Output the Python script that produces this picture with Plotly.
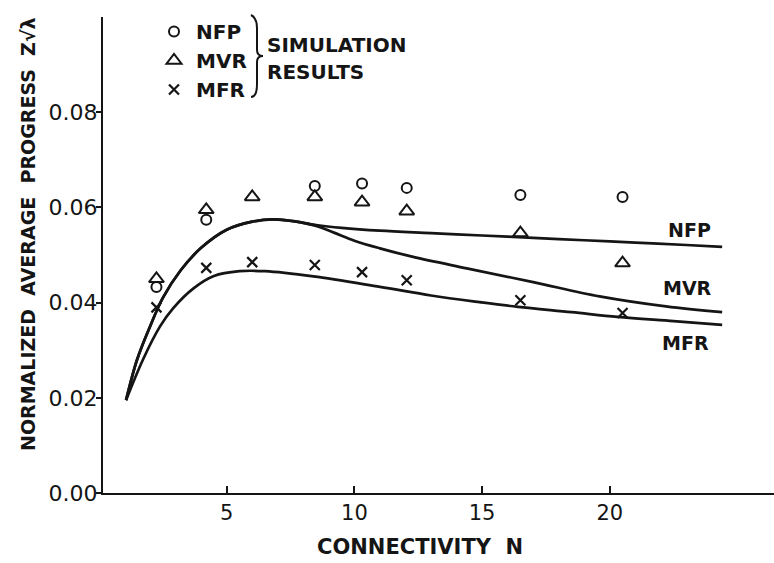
import plotly.graph_objects as go

# Simulation results (markers)
sim_n = [2.25, 4.2, 6.0, 8.45, 10.3, 12.05, 16.5, 20.5]
sim_nfp = [0.0433, 0.0574, None, 0.0645, 0.0650, 0.0641, 0.0626, 0.0622]
sim_mvr = [0.0450, 0.0595, 0.0622, 0.0622, 0.0611, 0.0592, 0.0546, 0.0483]
sim_mfr = [0.0390, 0.0473, 0.0485, 0.0479, 0.0464, 0.0447, 0.0405, 0.0378]

# Analytical curves
nfp_n = [1.06, 1.49, 2.0, 2.5, 3.2, 4.0, 5.0, 6.0, 6.8, 7.6, 8.5, 9.5,
         11.0, 13.0, 15.0, 17.0, 19.0, 21.0, 23.0, 24.4]
nfp_y = [0.0195, 0.0280, 0.0350, 0.0410, 0.0468, 0.0515, 0.0553, 0.0570,
         0.0575, 0.0571, 0.0563, 0.0557, 0.0551, 0.0546, 0.0541, 0.0536,
         0.0531, 0.0526, 0.0521, 0.0517]

mvr_n = [1.06, 1.49, 2.0, 2.5, 3.2, 4.0, 5.0, 6.0, 6.8, 7.6, 8.5, 9.2,
         10.0, 11.0, 12.3, 14.4, 17.0, 19.6, 22.2, 24.4]
mvr_y = [0.0195, 0.0280, 0.0350, 0.0410, 0.0468, 0.0515, 0.0553, 0.0570,
         0.0575, 0.0571, 0.0561, 0.0547, 0.0530, 0.0514, 0.0496, 0.0472,
         0.0443, 0.0413, 0.0392, 0.0380]

mfr_n = [1.06, 1.72, 2.39, 2.9, 3.7, 4.5, 5.5, 6.5, 8.4, 11.0, 13.0, 14.9,
         16.4, 18.5, 20.3, 22.5, 24.4]
mfr_y = [0.0195, 0.0280, 0.0350, 0.0388, 0.0430, 0.0456, 0.0466, 0.0466,
         0.0455, 0.0433, 0.0415, 0.0401, 0.0391, 0.0380, 0.0370, 0.0361,
         0.0353]

x_ticks = [5, 10, 15, 20]
y_ticks = [0.0, 0.02, 0.04, 0.06, 0.08]
y_tick_text = ["0.00", "0.02", "0.04", "0.06", "0.08"]

INK = "#151515"
FONT = "DejaVu Sans"

W, H = 774, 563
ML, MR, MT, MB = 103, 0, 17, 70


def px(xp, yp):
    """Pixel position -> paper coordinates."""
    return (xp - ML) / (W - ML - MR), (H - MB - yp) / (H - MT - MB)


fig = go.Figure()

for xs, ys in [(nfp_n, nfp_y), (mvr_n, mvr_y), (mfr_n, mfr_y)]:
    fig.add_trace(go.Scatter(
        x=xs, y=ys, mode="lines", showlegend=False, hoverinfo="skip",
        line=dict(color=INK, width=2.7, shape="spline", smoothing=1.0)))

fig.add_trace(go.Scatter(
    x=sim_n, y=sim_nfp, mode="markers", name="NFP",
    marker=dict(symbol="circle-open", size=10, color=INK,
                line=dict(width=2, color=INK))))
fig.add_trace(go.Scatter(
    x=sim_n, y=sim_mvr, mode="markers", name="MVR",
    marker=dict(symbol="triangle-up-open", size=13, color=INK,
                line=dict(width=2, color=INK))))
fig.add_trace(go.Scatter(
    x=sim_n, y=sim_mfr, mode="markers", name="MFR",
    marker=dict(symbol="x-thin-open", size=10, color=INK,
                line=dict(width=2.2, color=INK))))

annotations = []
# curve labels
for label, (xp, yp) in [("NFP", (689, 230)), ("MVR", (687, 288)),
                        ("MFR", (685, 343))]:
    ax, ay = px(xp, yp)
    annotations.append(dict(text=label, x=ax, y=ay, xref="paper",
                            yref="paper", showarrow=False,
                            xanchor="center", yanchor="middle",
                            font=dict(family=FONT, size=19, color=INK,
                                      weight="bold")))
# group caption next to the legend
for label, (xp, yp) in [("SIMULATION", (265, 45)), ("RESULTS", (265, 72))]:
    ax, ay = px(xp, yp)
    annotations.append(dict(text=label, x=ax, y=ay, xref="paper",
                            yref="paper", showarrow=False,
                            xanchor="left", yanchor="middle",
                            font=dict(family=FONT, size=20, color=INK,
                                      weight="bold")))

# axis titles
tx, ty = px(420, 547)
annotations.append(dict(text="CONNECTIVITY  N", x=tx, y=ty, xref="paper",
                        yref="paper", showarrow=False, xanchor="center",
                        yanchor="middle",
                        font=dict(family=FONT, size=21, color=INK,
                                  weight="bold")))
tx, ty = px(28, 234)
annotations.append(dict(text="NORMALIZED  AVERAGE  PROGRESS  Z√λ",
                        x=tx, y=ty, xref="paper", yref="paper",
                        showarrow=False, xanchor="center", yanchor="middle",
                        textangle=-90,
                        font=dict(family=FONT, size=19, color=INK,
                                  weight="bold")))

# brace joining the legend entries to the caption
pts = [(251, 15), (257, 18), (257, 28), (257, 50), (263, 56),
       (257, 62), (257, 84), (257, 94), (251, 97)]
p = [px(a, b) for a, b in pts]
brace = (f"M {p[0][0]} {p[0][1]} Q {p[1][0]} {p[1][1]} {p[2][0]} {p[2][1]} "
         f"L {p[3][0]} {p[3][1]} Q {p[3][0]} {p[4][1]} {p[4][0]} {p[4][1]} "
         f"Q {p[5][0]} {p[4][1]} {p[5][0]} {p[5][1]} "
         f"L {p[6][0]} {p[6][1]} Q {p[7][0]} {p[8][1]} {p[8][0]} {p[8][1]}")

lx, ly = px(152, 12)

fig.update_layout(
    width=W, height=H,
    margin=dict(l=ML, r=MR, t=MT, b=MB, pad=0),
    paper_bgcolor="white", plot_bgcolor="white",
    font=dict(family=FONT, color=INK),
    showlegend=True,
    legend=dict(x=lx, y=ly, xanchor="left", yanchor="top",
                bgcolor="rgba(0,0,0,0)", borderwidth=0,
                font=dict(family=FONT, size=20, color=INK, weight="bold"),
                itemwidth=34, tracegroupgap=0),
    annotations=annotations,
    shapes=[dict(type="path", path=brace, xref="paper", yref="paper",
                 line=dict(color=INK, width=2))],
    xaxis=dict(range=[0.157, 26.43], showgrid=False, zeroline=False,
               showline=True, linecolor=INK, linewidth=2,
               ticks="inside", ticklen=7, tickwidth=1.5, tickcolor=INK,
               tickvals=x_ticks, ticktext=[str(v) for v in x_ticks],
               tickfont=dict(family=FONT, size=21, color=INK),
               automargin=False),
    yaxis=dict(range=[0, 0.1], showgrid=False, zeroline=False,
               showline=True, linecolor=INK, linewidth=2,
               ticks="outside", ticklen=5, tickwidth=1.5, tickcolor=INK,
               tickvals=y_ticks, ticktext=y_tick_text,
               tickfont=dict(family=FONT, size=22, color=INK),
               ticklabelstandoff=-6,
               automargin=False),
)

fig.write_html("out.html")
